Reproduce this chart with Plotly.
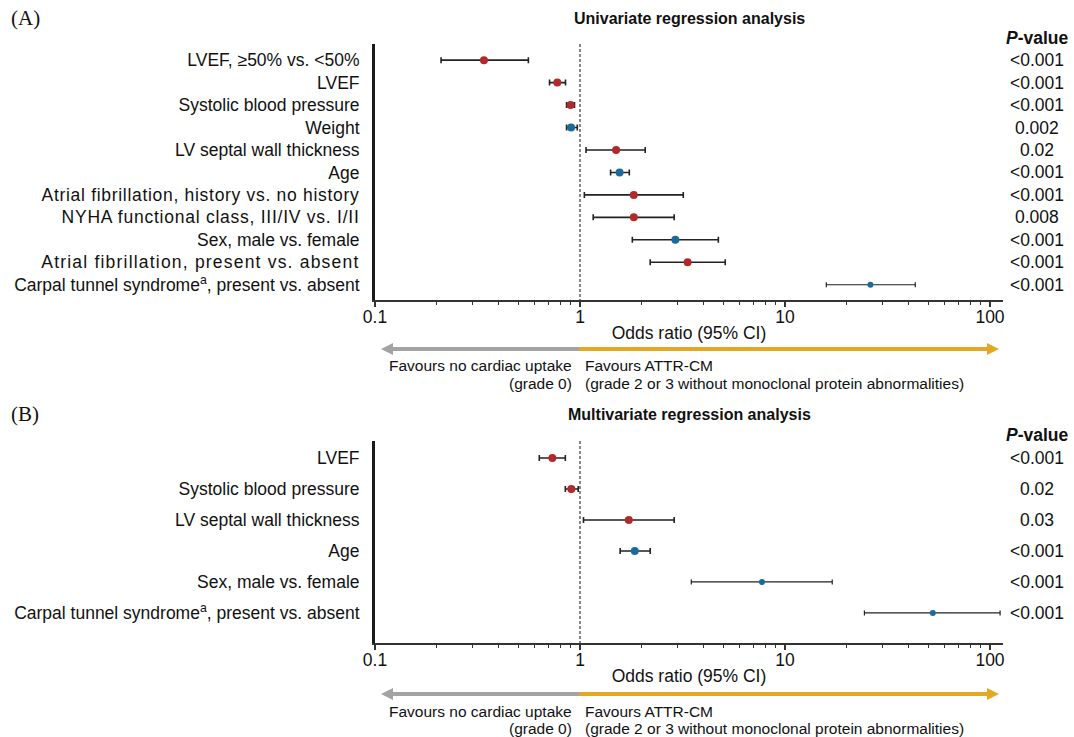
import plotly.graph_objects as go

W, H = 1074, 737
FONT = "Liberation Sans, Arial, sans-serif"
RED = "#B3282D"
BLUE = "#1B6B9A"

# ---------------- data ----------------
uni_labels = [
    "LVEF, ≥50% vs. <50%",
    "LVEF",
    "Systolic blood pressure",
    "Weight",
    "LV septal wall thickness",
    "Age",
    "Atrial fibrillation, history vs. no history",
    "NYHA functional class, III/IV vs. I/II",
    "Sex, male vs. female",
    "Atrial fibrillation, present vs. absent",
    "Carpal tunnel syndrome<sup>a</sup>, present vs. absent",
]
uni_or = [0.34, 0.775, 0.90, 0.905, 1.50, 1.56, 1.83, 1.83, 2.92, 3.35, 26.1]
uni_lo = [0.21, 0.71, 0.86, 0.86, 1.07, 1.41, 1.05, 1.16, 1.80, 2.20, 15.9]
uni_hi = [0.56, 0.85, 0.94, 0.97, 2.08, 1.74, 3.19, 2.88, 4.73, 5.11, 43.2]
uni_group = ["r", "r", "r", "b", "r", "b", "r", "r", "b", "r", "b"]
uni_p = ["<0.001", "<0.001", "<0.001", "0.002", "0.02", "<0.001", "<0.001",
         "0.008", "<0.001", "<0.001", "<0.001"]

multi_labels = [
    "LVEF",
    "Systolic blood pressure",
    "LV septal wall thickness",
    "Age",
    "Sex, male vs. female",
    "Carpal tunnel syndrome<sup>a</sup>, present vs. absent",
]
multi_or = [0.733, 0.907, 1.73, 1.85, 7.72, 52.6]
multi_lo = [0.633, 0.848, 1.04, 1.57, 3.49, 24.4]
multi_hi = [0.848, 0.98, 2.88, 2.20, 17.0, 112.0]
multi_group = ["r", "r", "r", "b", "b", "b"]
multi_p = ["<0.001", "0.02", "0.03", "<0.001", "<0.001", "<0.001"]

x_tickvals = [0.1, 1, 10, 100]
x_ticktext = ["0.1", "1", "10", "100"]
minor_vals = [m * d for d in (0.1, 1, 10) for m in range(2, 10)]

# label tracking (px) for the wide-set labels in the reference
label_spacing = {
    "Atrial fibrillation, history vs. no history": 0.7,
    "NYHA functional class, III/IV vs. I/II": 0.75,
    "Atrial fibrillation, present vs. absent": 1.2,
}


def styled(lbl):
    sp = label_spacing.get(lbl)
    if sp:
        return f'<span style="letter-spacing:{sp}px">{lbl}</span>'
    return lbl


# ---------------- geometry (px) ----------------
def px_x(p):
    return p / W


def px_y(p):
    return (H - p) / H


FS = 17.5
X0, X1 = 375, 1003
panels = [
    dict(labels=uni_labels, orv=uni_or, lo=uni_lo, hi=uni_hi, grp=uni_group, p=uni_p,
         top=44, bot=300, rng=[10.68, -0.72], thin={10}, xa="x", ya="y",
         title="Univariate regression analysis", title_y=18, tag="(A)", ptitle_y=38,
         arrow_y=349),
    dict(labels=multi_labels, orv=multi_or, lo=multi_lo, hi=multi_hi, grp=multi_group, p=multi_p,
         top=441, bot=643, rng=[5.97, -0.55], thin={4, 5}, xa="x2", ya="y2",
         title="Multivariate regression analysis", title_y=414, tag="(B)", ptitle_y=435,
         arrow_y=694),
]

line_traces = []
mark_traces = []
annotations = []
shapes = []

for k, pn in enumerate(panels):
    n = len(pn["labels"])
    for thin in (False, True):
        idx = [i for i in range(n) if (i in pn["thin"]) == thin]
        if not idx:
            continue
        mark_traces.append(go.Scatter(
            x=[pn["orv"][i] for i in idx],
            y=idx,
            mode="markers",
            marker=dict(size=6 if thin else 8,
                        color=[RED if pn["grp"][i] == "r" else BLUE for i in idx],
                        line=dict(width=0)),
            error_x=dict(type="data", symmetric=False,
                         array=[pn["hi"][i] - pn["orv"][i] for i in idx],
                         arrayminus=[pn["orv"][i] - pn["lo"][i] for i in idx],
                         color="#222222", thickness=1.2 if thin else 1.6,
                         width=2.5 if thin else 3),
            xaxis=pn["xa"], yaxis=pn["ya"], showlegend=False, hoverinfo="x+y",
        ))
    # dashed reference line at OR = 1
    line_traces.append(go.Scatter(
        x=[1, 1], y=[pn["rng"][1], pn["rng"][0]], mode="lines",
        line=dict(color="#555555", width=1.4, dash="3px,2px"),
        xaxis=pn["xa"], yaxis=pn["ya"], showlegend=False, hoverinfo="skip",
    ))
    # p-values
    for i, pv in enumerate(pn["p"]):
        annotations.append(dict(x=px_x(1037), xref="paper", y=i, yref=pn["ya"],
                                text=pv, showarrow=False, xanchor="center",
                                font=dict(size=FS, color="#111111", family=FONT)))
    annotations.append(dict(x=px_x(1037), xref="paper", y=px_y(pn["ptitle_y"]), yref="paper",
                            text="<b><i>P</i>-value</b>", showarrow=False, xanchor="center",
                            yanchor="middle", font=dict(size=FS, color="#111111", family=FONT)))
    annotations.append(dict(x=px_x((X0 + X1) / 2), xref="paper", y=px_y(pn["title_y"]),
                            yref="paper", text="<b>" + pn["title"] + "</b>", showarrow=False,
                            xanchor="center", yanchor="middle",
                            font=dict(size=16, color="#111111", family=FONT)))
    annotations.append(dict(x=px_x(9), xref="paper", y=px_y(pn["title_y"]), yref="paper",
                            text=pn["tag"], showarrow=False, xanchor="left", yanchor="middle",
                            font=dict(size=21, color="#111111",
                                      family="Liberation Serif, Times New Roman, serif")))
    # arrows
    ay = px_y(pn["arrow_y"])
    shapes.append(dict(type="line", xref="paper", yref="paper", x0=px_x(391), x1=px_x(579),
                       y0=ay, y1=ay, line=dict(color="#A3A3A3", width=4)))
    shapes.append(dict(type="line", xref="paper", yref="paper", x0=px_x(579), x1=px_x(989),
                       y0=ay, y1=ay, line=dict(color="#E5A823", width=4)))
    shapes.append(dict(type="path", xref="paper", yref="paper",
                       path=f"M {px_x(381)} {ay} L {px_x(393)} {px_y(pn['arrow_y'] - 6)} "
                            f"L {px_x(393)} {px_y(pn['arrow_y'] + 6)} Z",
                       fillcolor="#A3A3A3", line=dict(width=0)))
    shapes.append(dict(type="path", xref="paper", yref="paper",
                       path=f"M {px_x(999)} {ay} L {px_x(987)} {px_y(pn['arrow_y'] - 6)} "
                            f"L {px_x(987)} {px_y(pn['arrow_y'] + 6)} Z",
                       fillcolor="#E5A823", line=dict(width=0)))
    ty1 = px_y(pn["arrow_y"] + 17)
    ty2 = px_y(pn["arrow_y"] + 34)
    fav = dict(size=15.5, color="#111111", family=FONT)
    annotations += [
        dict(x=px_x(574), y=ty1, xref="paper", yref="paper", text="Favours no cardiac uptake",
             showarrow=False, xanchor="right", yanchor="middle", font=fav),
        dict(x=px_x(574), y=ty2, xref="paper", yref="paper", text="(grade 0)",
             showarrow=False, xanchor="right", yanchor="middle", font=fav),
        dict(x=px_x(583), y=ty1, xref="paper", yref="paper", text="Favours ATTR-CM",
             showarrow=False, xanchor="left", yanchor="middle", font=fav),
        dict(x=px_x(583), y=ty2, xref="paper", yref="paper",
             text="(grade 2 or 3 without monoclonal protein abnormalities)",
             showarrow=False, xanchor="left", yanchor="middle", font=fav),
    ]

fig = go.Figure(data=line_traces + mark_traces)


def xaxis_cfg(anchor):
    return dict(
        type="log", domain=[px_x(X0), px_x(X1)], range=[-1, -1 + (X1 - X0) / 205],
        anchor=anchor, showgrid=False, zeroline=False, automargin=False,
        showline=True, linecolor="#333333", linewidth=1.5,
        ticks="outside", ticklen=5, tickwidth=1.5, tickcolor="#333333",
        tickmode="array", tickvals=x_tickvals, ticktext=x_ticktext,
        tickfont=dict(size=FS, color="#111111", family=FONT), ticklabelstandoff=-5,
        minor=dict(tickmode="array", tickvals=minor_vals, ticks="outside", ticklen=3,
                   tickwidth=1.2, tickcolor="#333333", showgrid=False),
        title=dict(text="Odds ratio (95% CI)", font=dict(size=FS, color="#111111", family=FONT),
                   standoff=1),
        fixedrange=True,
    )


def yaxis_cfg(pn, anchor):
    return dict(
        domain=[px_y(pn["bot"]), px_y(pn["top"])], range=pn["rng"], anchor=anchor,
        showgrid=False, zeroline=False, showline=True, linecolor="#1a1a1a", linewidth=3,
        automargin=False,
        tickmode="array", tickvals=list(range(len(pn["labels"]))),
        ticktext=[styled(l) for l in pn["labels"]],
        ticks="", ticklabelstandoff=9,
        tickfont=dict(size=FS, color="#111111", family=FONT), fixedrange=True,
    )


fig.update_layout(
    width=W, height=H, margin=dict(l=0, r=0, t=0, b=0, autoexpand=False),
    paper_bgcolor="white", plot_bgcolor="white",
    font=dict(family=FONT, size=FS, color="#111111"),
    xaxis=xaxis_cfg("y"), yaxis=yaxis_cfg(panels[0], "x"),
    xaxis2=xaxis_cfg("y2"), yaxis2=yaxis_cfg(panels[1], "x2"),
    annotations=annotations, shapes=shapes, showlegend=False,
)

fig.write_html("out.html")
